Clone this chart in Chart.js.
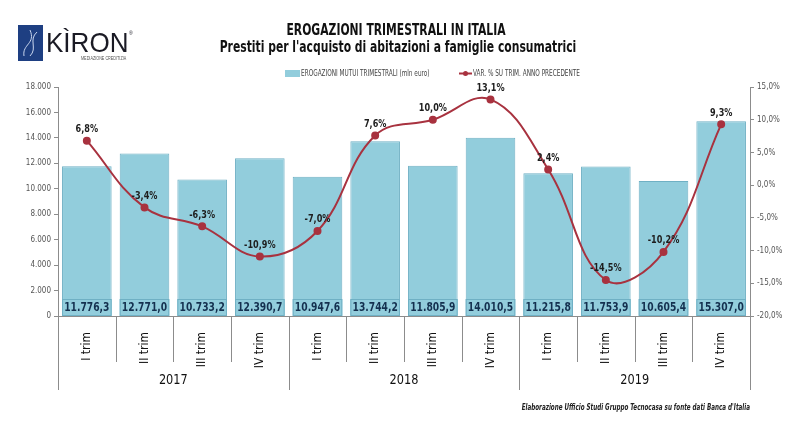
<!DOCTYPE html>
<html>
<head>
<meta charset="utf-8">
<script src="https://cdn.jsdelivr.net/npm/chart.js@4"></script>
<style>
  html, body { margin: 0; padding: 0; background: #fff; }
  #wrap { width: 800px; height: 436px; position: relative; }
</style>
</head>
<body>
<div id="wrap"><canvas id="chart" width="800" height="436"></canvas></div>
<script>
const quarters = ['I trim', 'II trim', 'III trim', 'IV trim', 'I trim', 'II trim', 'III trim', 'IV trim', 'I trim', 'II trim', 'III trim', 'IV trim'];
const years = ['2017', '2018', '2019'];
const erogazioni = [11776.3, 12771.0, 10733.2, 12390.7, 10947.6, 13744.2, 11805.9, 14010.5, 11215.8, 11753.9, 10605.4, 15307.0];
const variazione = [6.8, -3.4, -6.3, -10.9, -7.0, 7.6, 10.0, 13.1, 2.4, -14.5, -10.2, 9.3];

const FONT = "'DejaVu Sans Condensed', 'Liberation Sans', Arial, sans-serif";
const barFill = '#92cddc';
const barLine = '#6fb0c4';
const lineColor = '#a8323f';

function fmt(v, dec) {
  const neg = v < 0;
  let s = Math.abs(v).toFixed(dec);
  let [int, frac] = s.split('.');
  int = int.replace(/\B(?=(\d{3})+(?!\d))/g, '.');
  return (neg ? '-' : '') + int + (frac ? ',' + frac : '');
}

// squeeze text horizontally, the original uses a narrow font
function narrow(ctx, text, x, y, sx) {
  ctx.save();
  ctx.translate(x, y);
  ctx.scale(sx, 1);
  ctx.fillText(text, 0, 0);
  ctx.restore();
}

const extras = {
  id: 'extras',
  afterDatasetsDraw(chart) {
    const ctx = chart.ctx;
    const area = chart.chartArea;

    // bar value boxes
    const bars = chart.getDatasetMeta(0).data;
    ctx.save();
    bars.forEach((b, i) => {
      const w = b.width;
      ctx.fillStyle = barFill;
      ctx.fillRect(b.x - w / 2, area.bottom - 17, w, 17);
      ctx.strokeStyle = barLine;
      ctx.lineWidth = 1;
      ctx.strokeRect(b.x - w / 2 + 0.5, area.bottom - 16.5, w - 1, 16);
      ctx.fillStyle = '#14304f';
      ctx.font = 'bold 12px ' + FONT;
      ctx.textAlign = 'center';
      ctx.textBaseline = 'middle';
      narrow(ctx, fmt(erogazioni[i], 1), b.x, area.bottom - 8, 0.85);
    });

    // line labels
    const pts = chart.getDatasetMeta(1).data;
    ctx.font = 'bold 11px ' + FONT;
    ctx.fillStyle = '#1e1e1e';
    ctx.textAlign = 'center';
    ctx.textBaseline = 'bottom';
    pts.forEach((p, i) => {
      narrow(ctx, fmt(variazione[i], 1) + '%', p.x, p.y - 6, 0.82);
    });
    ctx.restore();
  },
  afterDraw(chart) {
    const ctx = chart.ctx;
    const x = chart.scales.x;
    const area = chart.chartArea;
    const step = x.getPixelForValue(1) - x.getPixelForValue(0);
    ctx.save();

    // separators under x axis
    ctx.strokeStyle = '#8c8c8c';
    ctx.lineWidth = 1;
    for (let i = 0; i <= quarters.length; i++) {
      const px = Math.round(x.getPixelForValue(0) - step / 2 + i * step) + 0.5;
      const yearEdge = i % 4 === 0;
      ctx.beginPath();
      ctx.moveTo(px, area.bottom);
      ctx.lineTo(px, area.bottom + (yearEdge ? 74 : 46));
      ctx.stroke();
    }
    // year labels
    ctx.fillStyle = '#111';
    ctx.font = '14px ' + FONT;
    ctx.textAlign = 'center';
    ctx.textBaseline = 'middle';
    years.forEach((y, k) => {
      const cx = (x.getPixelForValue(k * 4) + x.getPixelForValue(k * 4 + 3)) / 2;
      narrow(ctx, y, cx, area.bottom + 64, 0.9);
    });

    // titles
    ctx.font = 'bold 15px ' + FONT;
    ctx.fillStyle = '#111';
    narrow(ctx, 'EROGAZIONI TRIMESTRALI IN ITALIA', 396, 31, 0.8);
    narrow(ctx, "Prestiti per l'acquisto di abitazioni a famiglie consumatrici", 398, 48, 0.8);

    // legend
    ctx.font = '8px ' + FONT;
    ctx.textAlign = 'left';
    ctx.fillStyle = barFill;
    ctx.fillRect(285, 70, 15, 7);
    ctx.fillStyle = '#444';
    narrow(ctx, 'EROGAZIONI MUTUI TRIMESTRALI (mln euro)', 301, 74, 0.8);
    ctx.strokeStyle = lineColor;
    ctx.lineWidth = 2;
    ctx.beginPath();
    ctx.moveTo(459, 73.5);
    ctx.lineTo(472, 73.5);
    ctx.stroke();
    ctx.fillStyle = lineColor;
    ctx.beginPath();
    ctx.arc(465.5, 73.5, 2.5, 0, Math.PI * 2);
    ctx.fill();
    ctx.fillStyle = '#444';
    narrow(ctx, 'VAR. % SU TRIM. ANNO PRECEDENTE', 473, 74, 0.8);

    // logo
    ctx.fillStyle = '#1e3f82';
    ctx.fillRect(18, 25, 25, 36);
    ctx.strokeStyle = '#c9d6ee';
    ctx.lineWidth = 1;
    ctx.beginPath();
    ctx.moveTo(24, 56); ctx.bezierCurveTo(22, 44, 36, 44, 30, 30);
    ctx.moveTo(30, 56); ctx.bezierCurveTo(38, 48, 28, 40, 37, 32);
    ctx.stroke();
    ctx.fillStyle = '#1a1a24';
    ctx.font = '28px Arial, sans-serif';
    ctx.textBaseline = 'alphabetic';
    narrow(ctx, 'KÌRON', 46, 52, 0.93);
    ctx.font = '5px Arial, sans-serif';
    ctx.fillText('®', 129, 35);
    ctx.fillStyle = '#555';
    narrow(ctx, 'MEDIAZIONE CREDITIZIA', 81, 60, 0.75);

    // source
    ctx.font = 'italic bold 8px ' + FONT;
    ctx.fillStyle = '#222';
    ctx.textAlign = 'right';
    ctx.textBaseline = 'middle';
    narrow(ctx, "Elaborazione Ufficio Studi Gruppo Tecnocasa su fonte dati Banca d'Italia", 750, 408, 0.78);
    ctx.restore();
  }
};

new Chart(document.getElementById('chart'), {
  data: {
    labels: quarters,
    datasets: [
      {
        type: 'bar',
        label: 'EROGAZIONI MUTUI TRIMESTRALI (mln euro)',
        data: erogazioni,
        backgroundColor: barFill,
        borderColor: barLine,
        borderWidth: 1,
        barPercentage: 0.86,
        categoryPercentage: 1,
        yAxisID: 'y',
        order: 2
      },
      {
        type: 'line',
        label: 'VAR. % SU TRIM. ANNO PRECEDENTE',
        data: variazione,
        borderColor: lineColor,
        backgroundColor: lineColor,
        borderWidth: 2,
        tension: 0.4,
        pointRadius: 3,
        pointBackgroundColor: lineColor,
        yAxisID: 'y1',
        order: 1
      }
    ]
  },
  options: {
    responsive: false,
    animation: false,
    layout: { padding: { top: 87, left: 0, right: 0, bottom: 0 } },
    plugins: {
      legend: { display: false },
      tooltip: { enabled: false }
    },
    scales: {
      x: {
        afterFit(scale) { scale.height = 120; },
        grid: { display: false },
        border: { display: true, color: '#8c8c8c' },
        ticks: {
          minRotation: 90,
          maxRotation: 90,
          padding: 8,
          color: '#111',
          font: { family: FONT, size: 12 }
        }
      },
      y: {
        position: 'left',
        min: 0,
        max: 18000,
        afterFit(scale) { scale.width = 58; },
        grid: { drawOnChartArea: false, tickLength: 4, color: '#8c8c8c' },
        border: { display: true, color: '#8c8c8c' },
        ticks: {
          stepSize: 2000,
          padding: 3,
          color: '#555',
          font: { family: FONT, size: 8 },
          callback: v => fmt(v, 0)
        }
      },
      y1: {
        position: 'right',
        min: -20,
        max: 15,
        afterFit(scale) { scale.width = 50; },
        grid: { drawOnChartArea: false, tickLength: 4, color: '#8c8c8c' },
        border: { display: true, color: '#8c8c8c' },
        ticks: {
          stepSize: 5,
          padding: 3,
          color: '#555',
          font: { family: FONT, size: 8 },
          callback: v => fmt(v, 1) + '%'
        }
      }
    }
  },
  plugins: [extras]
});
</script>
</body>
</html>
